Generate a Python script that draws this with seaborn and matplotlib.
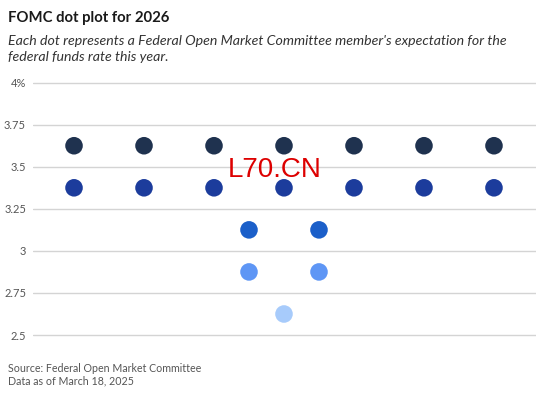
import pandas as pd
import seaborn as sns
import matplotlib.pyplot as plt

# Dot plot data: each dot is one member; column is its horizontal slot
rates = [3.625] * 7 + [3.375] * 7 + [3.125] * 2 + [2.875] * 2 + [2.625]
columns = list(range(7)) + list(range(7)) + [2.5, 3.5] + [2.5, 3.5] + [3]
levels = ['3.625', '3.375', '3.125', '2.875', '2.625']
level_colors = ['#1f324f', '#1c3c9c', '#1b5fc9', '#5e96f5', '#a7cbfb']
y_ticks = [2.5, 2.75, 3, 3.25, 3.5, 3.75, 4]
y_labels = ['2.5', '2.75', '3', '3.25', '3.5', '3.75', '4%']

df = pd.DataFrame({'col': columns, 'rate': rates})
df['level'] = df['rate'].map(lambda r: f'{r:.3f}')

sns.set_style('white')
plt.rcParams['font.family'] = ['Lato', 'DejaVu Sans']

fig = plt.figure(figsize=(5.5, 3.99), dpi=100)
ax = fig.add_axes([0.06, 0.1519, 0.9145, 0.6494])

sns.scatterplot(data=df, x='col', y='rate', hue='level', hue_order=levels,
                palette=dict(zip(levels, level_colors)), s=160,
                edgecolor='none', legend=False, ax=ax, zorder=3)

ax.set_xlim(-0.586, 6.6)
ax.set_ylim(2.48, 4.02)
ax.set_yticks(y_ticks)
ax.set_yticklabels(y_labels)
ax.set_xticks([])
ax.set_xlabel('')
ax.set_ylabel('')
ax.grid(axis='y', color='#d4d4d4', linewidth=1)
ax.tick_params(axis='y', length=0, pad=5, labelsize=8, labelcolor='#555555')
sns.despine(ax=ax, left=True, bottom=True)

fig.text(0.0145, 0.945, 'FOMC dot plot for 2026', fontsize=10.7,
         fontweight='bold', color='#1a1a1a', va='baseline')
fig.text(0.0145, 0.888, "Each dot represents a Federal Open Market Committee member's expectation for the",
         fontsize=10.2, style='italic', color='#333333', va='baseline')
fig.text(0.0145, 0.848, 'federal funds rate this year.',
         fontsize=10.2, style='italic', color='#333333', va='baseline')
fig.text(0.0145, 0.068, 'Source: Federal Open Market Committee',
         fontsize=7.7, color='#555555', va='baseline')
fig.text(0.0145, 0.036, 'Data as of March 18, 2025',
         fontsize=7.7, color='#555555', va='baseline')

fig.text(0.5, 0.574, 'L70.CN', fontsize=20, color='#dd0000',
         family='Liberation Sans', ha='center', va='center')

plt.savefig('out.png', dpi=100)
